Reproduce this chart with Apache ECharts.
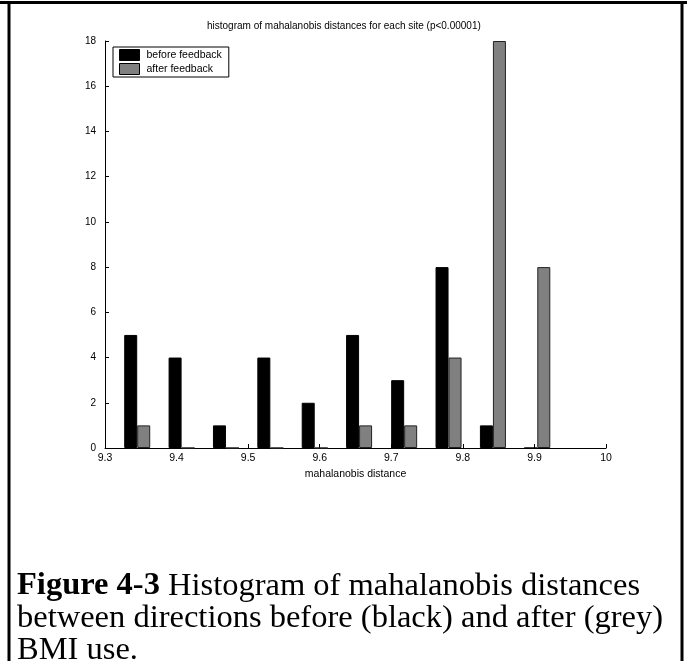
<!DOCTYPE html>
<html>
<head>
<meta charset="utf-8">
<script src="https://cdn.jsdelivr.net/npm/echarts@6/dist/echarts.min.js"></script>
<style>
html,body{margin:0;padding:0;background:#fff;}
#chart{width:687px;height:661px;}
</style>
</head>
<body>
<div id="chart"></div>
<script>
// ---- data ----
var binCenters = [9.345, 9.407, 9.469, 9.531, 9.593, 9.655, 9.718, 9.780, 9.842, 9.904];
var beforeCounts = [5, 4, 1, 4, 2, 5, 3, 8, 1, 0];
var afterCounts  = [1, 0, 0, 0, 0, 1, 1, 4, 18, 8];
var xTickLabels = ['9.3', '9.4', '9.5', '9.6', '9.7', '9.8', '9.9', '10'];
var yTickLabels = ['0', '2', '4', '6', '8', '10', '12', '14', '16', '18'];
var seriesNames = ['before feedback', 'after feedback'];
var chartTitle = 'histogram of mahalanobis distances for each site (p<0.00001)';
var xAxisTitle = 'mahalanobis distance';
var captionBold = 'Figure 4-3';
var captionLine1 = ' Histogram of mahalanobis distances';
var captionLine2 = 'between directions before (black) and after (grey)';
var captionLine3 = 'BMI use.';

var chart = echarts.init(document.getElementById('chart'), null, {renderer: 'canvas'});

function pairs(xs, ys) { return xs.map(function (x, i) { return [x, ys[i]]; }); }

var sansFont = '"Liberation Sans", Arial, sans-serif';
var serifFont = '"Liberation Serif", "Times New Roman", serif';

var option = {
  backgroundColor: '#fff',
  animation: false,
  title: [
    {
      text: chartTitle,
      left: 202, top: 16,
      textStyle: {fontFamily: sansFont, fontSize: 10, fontWeight: 'normal', color: '#000'}
    },
    {
      text: '{b|' + captionBold + '}' + captionLine1 + '\n' + captionLine2 + '\n' + captionLine3,
      left: 12, top: 565,
      textStyle: {
        fontFamily: serifFont, fontSize: 32.5, fontWeight: 'normal', color: '#000', lineHeight: 32,
        rich: {b: {fontFamily: serifFont, fontSize: 32.5, fontWeight: 'bold', color: '#000', lineHeight: 32}}
      }
    }
  ],
  legend: {
    orient: 'vertical',
    left: 113, top: 47,
    data: seriesNames,
    icon: 'rect',
    itemWidth: 20, itemHeight: 11,
    itemGap: 2,
    padding: [2, 7, 2, 6],
    backgroundColor: '#fff',
    borderColor: '#000', borderWidth: 1, borderRadius: 0,
    itemStyle: {borderColor: '#000', borderWidth: 1},
    textStyle: {fontFamily: sansFont, fontSize: 10.5, color: '#000', lineHeight: 12, padding: [0, 0, 0, 2]}
  },
  grid: {left: 105, right: 81, top: 41, bottom: 213, containLabel: false},
  xAxis: {
    type: 'value',
    min: 9.3, max: 10, interval: 0.1,
    name: xAxisTitle,
    nameLocation: 'middle', nameGap: 21,
    nameTextStyle: {fontFamily: sansFont, fontSize: 10.5, color: '#000'},
    axisLine: {show: true, onZero: false, lineStyle: {color: '#000', width: 1}},
    axisTick: {show: true, inside: true, length: 4, lineStyle: {color: '#000'}},
    axisLabel: {
      fontFamily: sansFont, fontSize: 10.5, color: '#000', margin: 5,
      formatter: function (v) { var i = Math.round((v - 9.3) * 10); return xTickLabels[i] !== undefined ? xTickLabels[i] : ''; }
    },
    splitLine: {show: false}
  },
  yAxis: {
    type: 'value',
    min: 0, max: 18, interval: 2,
    axisLine: {show: true, lineStyle: {color: '#000', width: 1}},
    axisTick: {show: true, inside: true, length: 4, lineStyle: {color: '#000'}},
    axisLabel: {
      fontFamily: sansFont, fontSize: 10, color: '#000', margin: 9,
      formatter: function (v) { var i = Math.round(v / 2); return yTickLabels[i] !== undefined ? yTickLabels[i] : ''; }
    },
    splitLine: {show: false}
  },
  series: [
    {
      name: seriesNames[0], type: 'bar',
      data: pairs(binCenters, beforeCounts),
      barWidth: 13, barGap: '0%',
      itemStyle: {color: '#000', borderColor: '#000', borderWidth: 1}
    },
    {
      name: seriesNames[1], type: 'bar',
      data: pairs(binCenters, afterCounts),
      barWidth: 13, barGap: '0%',
      itemStyle: {color: '#808080', borderColor: '#222', borderWidth: 1}
    }
  ],
  graphic: [
    {type: 'line', shape: {x1: 0, y1: 2.5, x2: 687, y2: 2.5}, style: {stroke: '#000', lineWidth: 3}},
    {type: 'line', shape: {x1: 9, y1: 2, x2: 9, y2: 661}, style: {stroke: '#000', lineWidth: 3}},
    {type: 'line', shape: {x1: 682, y1: 2, x2: 682, y2: 661}, style: {stroke: '#000', lineWidth: 3}}
  ]
};
chart.setOption(option);
</script>
</body>
</html>
